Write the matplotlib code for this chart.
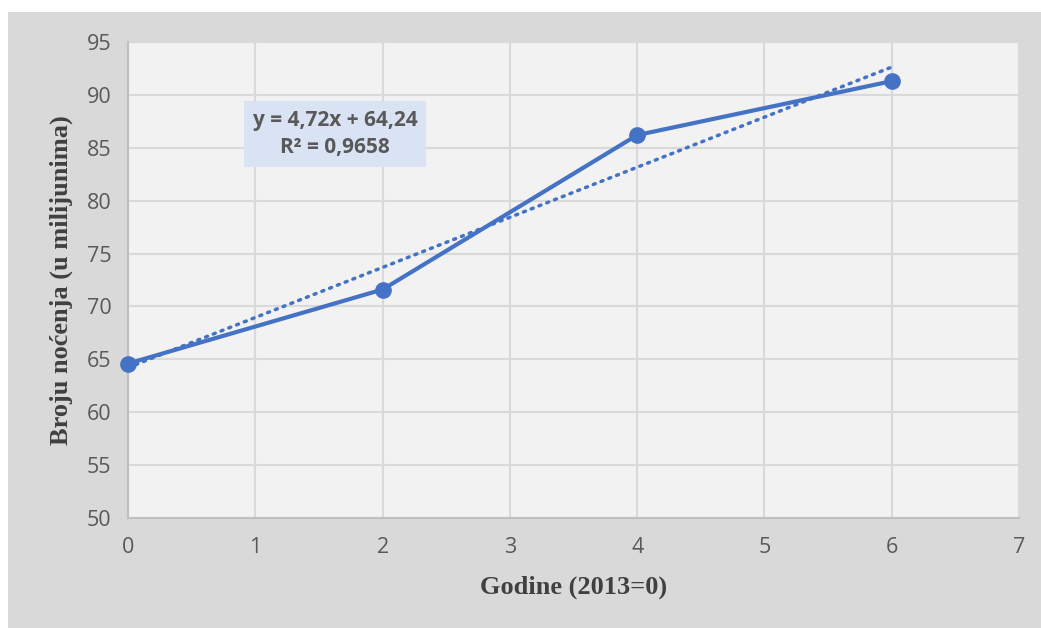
import numpy as np
import matplotlib
matplotlib.use('Agg')
import matplotlib.pyplot as plt
from matplotlib.patches import Rectangle

# podaci
godine = [0, 2, 4, 6]
nocenja = [64.6, 71.6, 86.2, 91.3]
yticks = [50, 55, 60, 65, 70, 75, 80, 85, 90, 95]
xticks = [0, 1, 2, 3, 4, 5, 6, 7]

W, H = 1041, 628
fig = plt.figure(figsize=(W / 100, H / 100), dpi=100)
fig.patch.set_facecolor('white')
# siva pozadina grafikona
fig.patches.append(Rectangle((8 / W, 0), 1 - 8 / W, 1 - 12 / H, transform=fig.transFigure,
                             facecolor='#d9d9d9', edgecolor='none', zorder=-5))

ax = fig.add_axes([128 / W, (H - 518) / H, (1019 - 128) / W, (518 - 42) / H])
ax.set_facecolor('#f2f2f2')

blue = '#4472c4'
ax.plot(godine, nocenja, color=blue, lw=3, marker='o', ms=11, zorder=4, clip_on=False)

# linearni trend
k, l = np.polyfit(godine, nocenja, 1)
xt = np.array([godine[0], godine[-1]])
ax.plot(xt, k * xt + l, color=blue, lw=2.5, ls=(0, (0.6, 1.8)), dash_capstyle='round', zorder=3)

ax.set_xlim(0, 7)
ax.set_ylim(50, 95)
ax.set_xticks(xticks)
ax.set_yticks(yticks)
ax.grid(True, color='#d9d9d9', lw=1.5)
ax.set_axisbelow(True)
for s in ['top', 'right']:
    ax.spines[s].set_visible(False)
for s in ['left', 'bottom']:
    ax.spines[s].set_color('#bfbfbf')
    ax.spines[s].set_linewidth(1.5)
ax.tick_params(length=0, labelsize=15.5, labelcolor='#595959')
ax.tick_params(axis='x', pad=14)
ax.tick_params(axis='y', pad=12)
for t in ax.get_xticklabels() + ax.get_yticklabels():
    t.set_family('Open Sans')

ax.set_xlabel('Godine (2013=0)', fontsize=19, fontweight='bold', family='Liberation Serif',
              color='#404040', labelpad=12)
ax.set_ylabel('Broju noćenja (u milijunima)', fontsize=19, fontweight='bold', family='Liberation Serif',
              color='#404040', labelpad=10)

ax.text(1.626, 86.3, 'y = 4,72x + 64,24\nR² = 0,9658', ha='center', va='center',
        fontsize=15, fontweight='bold', family='Open Sans', color='#595959', linespacing=1.4,
        bbox=dict(boxstyle='square,pad=0.4', facecolor='#dae3f3', edgecolor='none'), zorder=5)

fig.savefig('out.png', dpi=100)
